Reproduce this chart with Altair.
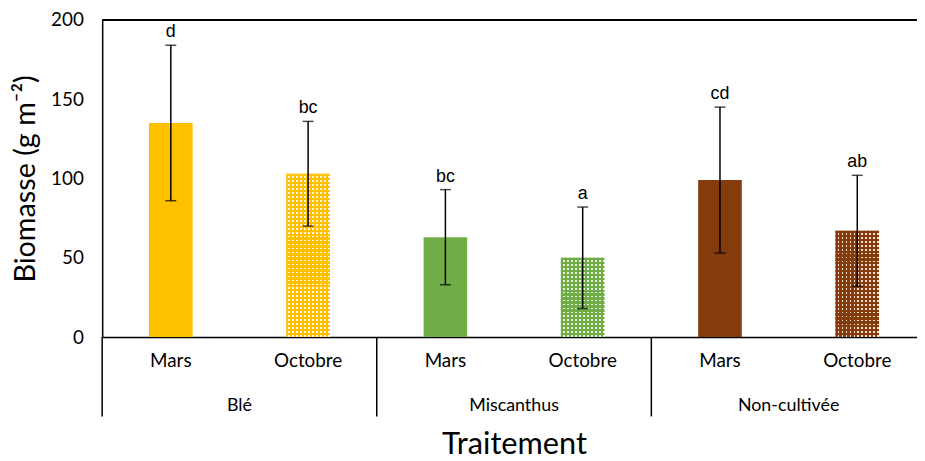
import altair as alt
import pandas as pd

groups = ["Blé", "Blé", "Miscanthus", "Miscanthus", "Non-cultivée", "Non-cultivée"]
months = ["Mars", "Octobre", "Mars", "Octobre", "Mars", "Octobre"]
biomass = [135, 103, 63, 50, 99, 67]
err_high = [184, 136, 93, 82, 145, 102]
err_low = [86, 70, 33, 18, 53, 32]
letters = ["d", "bc", "bc", "a", "cd", "ab"]

group_names = ["Blé", "Miscanthus", "Non-cultivée"]
group_colors = ["#FFC000", "#70AD47", "#843C0C"]
light_colors = ["#FFF6DC", "#E6F2DE", "#EFDCCD"]

df = pd.DataFrame({
    "group": groups, "month": months, "biomass": biomass,
    "hi": err_high, "lo": err_low, "letter": letters,
})
df["key"] = df["group"] + "|" + df["month"]
keys = list(df["key"])

gdf = pd.DataFrame({"group": group_names})
gdf["key"] = gdf["group"] + "|Mars"

W, H = 822, 320
FONT = "Lato"

xscale = alt.Scale(domain=keys, range=[0, 831], paddingInner=0, paddingOuter=0)
yscale = alt.Scale(domain=[0, 200])

xaxis = alt.Axis(
    labelExpr="split(datum.label, '|')[1]", ticks=False, tickSize=0, grid=False,
    domainColor="black", domainWidth=1.5, labelFont=FONT, labelFontSize=19,
    labelColor="black", labelPadding=15, labelAngle=0,
    title="Traitement", titleFont=FONT, titleFontSize=31, titleFontWeight="normal",
    titleColor="black", titleBaseline="alphabetic", titleY=117,
)
yaxis = alt.Axis(
    values=[0, 50, 100, 150, 200], ticks=False, tickSize=0, grid=False,
    domainColor="black", domainWidth=1.5, labelFont=FONT, labelFontSize=19,
    labelColor="black", labelPadding=19,
    title="Biomasse (g m⁻²)", titleFont=FONT, titleFontSize=29,
    titleFontWeight="normal", titleColor="black",
    titleBaseline="alphabetic", titleX=-68,
)

X = alt.X("key:N", scale=xscale, axis=xaxis, sort=keys)

def Y(field):
    return alt.Y(field, scale=yscale, axis=yaxis)

base = alt.Chart(df)

def stripes(c1, c2, n, frac, vertical):
    stops = []
    for i in range(n):
        a = i / n
        b = (i + frac) / n
        c = (i + 1) / n
        stops += [
            alt.GradientStop(offset=a, color=c1),
            alt.GradientStop(offset=b, color=c1),
            alt.GradientStop(offset=b, color=c2),
            alt.GradientStop(offset=c, color=c2),
        ]
    if vertical:
        return alt.Gradient(gradient="linear", stops=stops, x1=0, x2=1, y1=0, y2=0)
    return alt.Gradient(gradient="linear", stops=stops, x1=0, x2=0, y1=0, y2=1)

mars = base.transform_filter(alt.datum.month == "Mars").mark_bar(width=44).encode(
    x=X,
    y=Y("biomass:Q"),
    color=alt.Color("group:N", scale=alt.Scale(domain=group_names, range=group_colors), legend=None),
)

oct_layers = []
for g, c, l in zip(group_names, group_colors, light_colors):
    val = [v for gg, m, v in zip(groups, months, biomass) if gg == g and m == "Octobre"][0]
    nrows = max(1, round(val * H / 200 / 4))
    sub = base.transform_filter((alt.datum.month == "Octobre") & (alt.datum.group == g))
    oct_layers.append(
        sub.mark_bar(width=44, color=stripes(c, l, 11, 0.55, True)).encode(x=X, y=Y("biomass:Q"))
    )
    oct_layers.append(
        sub.mark_bar(width=44, color=stripes(c, "rgba(255,255,255,0)", nrows, 0.55, False)).encode(
            x=X, y=Y("biomass:Q"))
    )

err = base.mark_rule(color="black", strokeWidth=1.5).encode(
    x=X, y=Y("lo:Q"), y2="hi:Q",
)
cap_hi = base.mark_tick(color="black", size=11, thickness=1.5, orient="horizontal").encode(
    x=X, y=Y("hi:Q"),
)
cap_lo = base.mark_tick(color="black", size=11, thickness=1.5, orient="horizontal").encode(
    x=X, y=Y("lo:Q"),
)
lett = base.mark_text(font="Liberation Sans", fontSize=18, dy=-8, baseline="alphabetic", color="black").encode(
    x=X, y=Y("hi:Q"), text="letter:N",
)

topline = alt.Chart(gdf).mark_rule(color="black", strokeWidth=1.5).encode(
    x=alt.value(0), x2=alt.value(W + 10),
    y=alt.Y(datum=200, scale=yscale, axis=yaxis),
)

glabels = alt.Chart(gdf).mark_text(font=FONT, fontSize=18, baseline="alphabetic", color="black").encode(
    x=alt.X("key:N", scale=xscale, axis=xaxis, sort=keys, bandPosition=1),
    y=alt.value(H + 75),
    text="group:N",
)
seps = alt.Chart(gdf).mark_rule(color="black", strokeWidth=1.5).encode(
    x=alt.X("key:N", scale=xscale, axis=xaxis, sort=keys, bandPosition=0),
    y=alt.value(H),
    y2=alt.value(H + 80),
)

chart = alt.layer(mars, *oct_layers, err, cap_hi, cap_lo, lett, topline, glabels, seps).properties(
    width=W, height=H,
    padding={"left": 95, "top": 10, "right": 0, "bottom": 123},
    autosize="none",
).configure_view(stroke=None).configure(background="white")

chart.save("out.html", embed_options={"renderer": "svg", "actions": False})
